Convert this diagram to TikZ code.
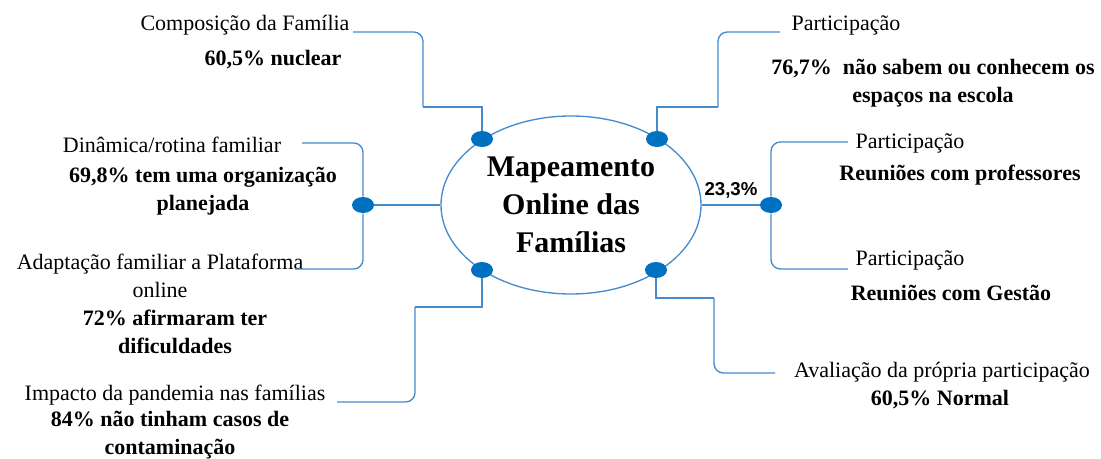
\documentclass[tikz,border=0pt]{standalone}
\usepackage{fontspec}
\setmainfont{Liberation Serif}
\newfontfamily\arialfont{Liberation Sans}
\usetikzlibrary{shapes.geometric}
\definecolor{linkblue}{RGB}{70,140,205}
\definecolor{dotblue}{RGB}{0,112,192}

\begin{document}
\begin{tikzpicture}[x=0.75pt,y=-0.75pt,
    conn/.style={draw=linkblue,line width=1pt},
    dot/.style={ellipse,fill=dotblue,minimum width=16.5pt,minimum height=12pt,inner sep=0pt},
    lbl/.style={inner sep=0pt,align=center,font=\fontsize{16.5}{21}\selectfont},
    val/.style={inner sep=0pt,align=center,font=\fontsize{16.5}{21}\selectfont\bfseries}]
    \useasboundingbox (0,0) rectangle (1101,459);

    \node [ellipse,draw=linkblue,line width=1pt,minimum width=195pt,minimum height=133.5pt,
        inner sep=0pt,align=center,font=\fontsize{22.5}{28.5}\selectfont\bfseries]
        (M) at (571,205) {Mapeamento\\Online das\\Famílias};

    \node [dot] (A) at (482,139) {};
    \node [dot] (B) at (657,139) {};
    \node [dot] (C) at (482,270) {};
    \node [dot] (D) at (656,270) {};
    \node [dot] (E) at (363,205) {};
    \node [dot] (F) at (771,205) {};

    \node [lbl] (T1) at (245,25) {Composição da Família};
    \node [val] (V1) at (273,60) {60,5\% nuclear};
    \node [lbl] (T2) at (846,25) {Participação};
    \node [val] (V2) at (933,83) {76,7\%~ não sabem ou conhecem os\\espaços na escola};
    \node [lbl] (T3) at (172,145) {Dinâmica/rotina familiar};
    \node [val] (V3) at (203,191) {69,8\% tem uma organização\\planejada};
    \node [lbl] (T4) at (160,276) {Adaptação familiar a Plataforma\\online};
    \node [val] (V4) at (175,332) {72\% afirmaram ter\\dificuldades};
    \node [lbl] (T5) at (175,395) {Impacto da pandemia nas famílias};
    \node [val] (V5) at (170,435) {84\% não tinham casos de\\contaminação};
    \node [lbl] (T6) at (910,143) {Participação};
    \node [val] (V6) at (960,175) {Reuniões com professores};
    \node [lbl] (T7) at (910,260) {Participação};
    \node [val] (V7) at (951,293) {Reuniões com Gestão};
    \node [lbl] (T8) at (942,372) {Avaliação da própria participação};
    \node [val] (V8) at (940,400) {60,5\% Normal};
    \node [inner sep=0pt,font=\arialfont\fontsize{14}{16}\selectfont\bfseries] (K) at (731,190) {23,3\%};

    \coordinate (a1) at (423,107);
    \coordinate (a2) at (353,32);
    \coordinate (b1) at (718,107);
    \coordinate (b2) at (780,32);
    \coordinate (e1) at (302,143);
    \coordinate (e2) at (295,269);
    \coordinate (f1) at (848,142);
    \coordinate (f2) at (848,269);
    \coordinate (c1) at (415,307);
    \coordinate (c2) at (337,402);
    \coordinate (d1) at (714,298);
    \coordinate (d2) at (775,373);

    \draw [conn] (A) |- (a1);
    \draw [conn,rounded corners=7pt] (a1) |- (a2);
    \draw [conn] (B) |- (b1);
    \draw [conn,rounded corners=7pt] (b1) |- (b2);
    \draw [conn] (C) |- (c1);
    \draw [conn,rounded corners=7pt] (c1) |- (c2);
    \draw [conn] (D) |- (d1);
    \draw [conn,rounded corners=7pt] (d1) |- (d2);

    \path [conn] (E) edge node {} (M);
    \path [conn] (M) edge node {} (F);
    \draw [conn,rounded corners=7pt] (e1) -| (E);
    \draw [conn,rounded corners=7pt] (e2) -| (E);
    \draw [conn,rounded corners=7pt] (f1) -| (F);
    \draw [conn,rounded corners=7pt] (f2) -| (F);
\end{tikzpicture}
\end{document}
